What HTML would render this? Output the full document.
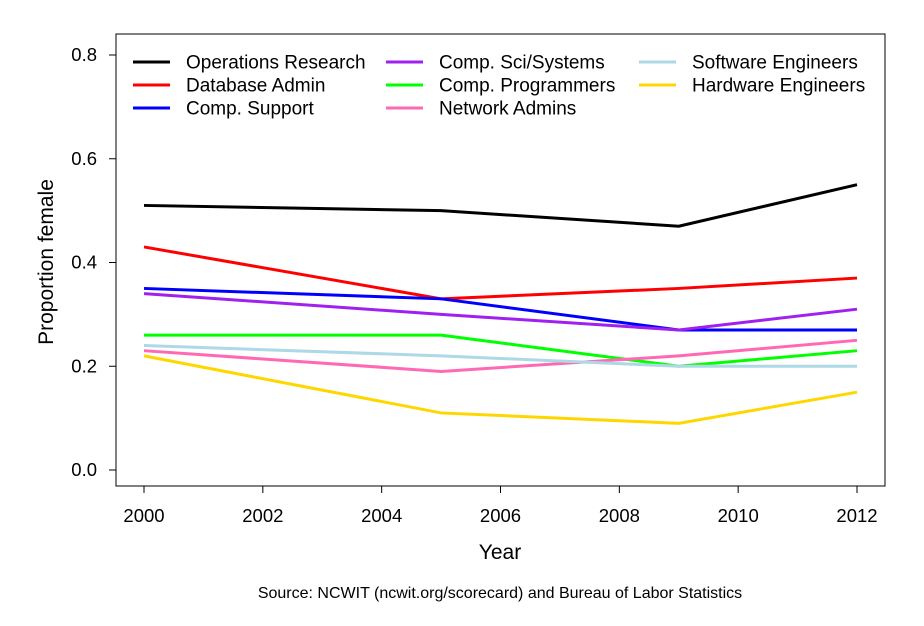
<!DOCTYPE html>
<html><head><meta charset="utf-8"><style>
body{margin:0;background:#fff}
svg text{font-family:"Liberation Sans",sans-serif;fill:#000}
</style></head><body>
<svg id="chart" width="924" height="621" xmlns="http://www.w3.org/2000/svg">
<rect x="0" y="0" width="924" height="621" fill="#fff"/>
<rect x="116" y="34" width="769" height="452" fill="none" stroke="#000" stroke-width="1"/>
<g id="axes"></g>
<g id="series"></g>
<g id="legend"></g>
<text x="500" y="559" font-size="21" text-anchor="middle">Year</text>
<text transform="translate(53,262) rotate(-90)" font-size="21" text-anchor="middle">Proportion female</text>
<text x="500" y="598" font-size="16" text-anchor="middle">Source: NCWIT (ncwit.org/scorecard) and Bureau of Labor Statistics</text>
</svg>
<script>
const years = [2000, 2005, 2009, 2012];
const seriesNames = ["Operations Research","Database Admin","Comp. Support","Comp. Sci/Systems","Comp. Programmers","Network Admins","Software Engineers","Hardware Engineers"];
const seriesColors = ["#000000","#ff0000","#0000ff","#a020f0","#00ff00","#ff69b4","#add8e6","#ffd700"];
const opsResearch = [0.51, 0.50, 0.47, 0.55];
const dbAdmin = [0.43, 0.33, 0.35, 0.37];
const compSupport = [0.35, 0.33, 0.27, 0.27];
const compSci = [0.34, 0.30, 0.27, 0.31];
const compProg = [0.26, 0.26, 0.20, 0.23];
const netAdmins = [0.23, 0.19, 0.22, 0.25];
const swEng = [0.24, 0.22, 0.20, 0.20];
const hwEng = [0.22, 0.11, 0.09, 0.15];
const seriesValues = [opsResearch, dbAdmin, compSupport, compSci, compProg, netAdmins, swEng, hwEng];
const xTicks = [2000, 2002, 2004, 2006, 2008, 2010, 2012];
const yTicks = [0.0, 0.2, 0.4, 0.6, 0.8];

const NS = "http://www.w3.org/2000/svg";
function xScale(v){ return 144 + (v - 2000) * (857 - 144) / 12; }
function yScale(v){ return 470 - v * (470 - 55) / 0.8; }
function mk(tag, attrs, parent){
  const e = document.createElementNS(NS, tag);
  for (const k in attrs) e.setAttribute(k, attrs[k]);
  parent.appendChild(e); return e;
}
const axes = document.getElementById("axes");
xTicks.forEach(t => {
  const x = xScale(t);
  const l = mk("line", {x1:x, x2:x, y1:486, y2:493, stroke:"#000"}, axes);
  
  
  const tx = mk("text", {x:x, y:522, "font-size":18.5, "text-anchor":"middle"}, axes);
  tx.textContent = t;
  
  
});
yTicks.forEach(t => {
  const y = yScale(t);
  const l = mk("line", {x1:109, x2:116, y1:y, y2:y, stroke:"#000"}, axes);
  
  
  const tx = mk("text", {x:97, y:y+6, "font-size":18.5, "text-anchor":"end"}, axes);
  tx.textContent = t.toFixed(1);
  
  
});
const sg = document.getElementById("series");
seriesValues.forEach((vals, i) => {
  const pts = vals.map((v, j) => xScale(years[j]) + "," + yScale(v)).join(" ");
  const p = mk("polyline", {points:pts, fill:"none", stroke:seriesColors[i], "stroke-width":3}, sg);
  
  
});
const lg = document.getElementById("legend");
const colX = [133, 386, 639];
const rowY = [62, 85, 108];
seriesNames.forEach((n, i) => {
  const c = Math.floor(i / 3), r = i % 3;
  const g = mk("g", {}, lg);
  
  
  mk("line", {x1:colX[c], x2:colX[c]+37, y1:rowY[r], y2:rowY[r], stroke:seriesColors[i], "stroke-width":3}, g);
  const t = mk("text", {x:colX[c]+53, y:rowY[r]+6.5, "font-size":19}, g);
  t.textContent = n;
});
</script>
</body></html>
